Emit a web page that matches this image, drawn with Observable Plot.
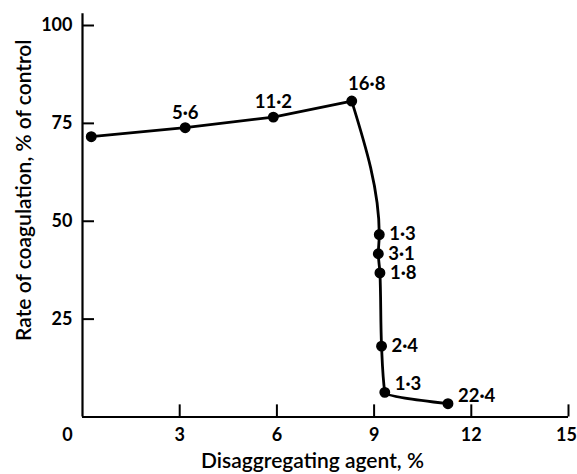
<!DOCTYPE html>
<html>
<head>
<meta charset="utf-8">
<script src="https://cdn.jsdelivr.net/npm/d3@7"></script>
<script src="https://cdn.jsdelivr.net/npm/@observablehq/plot@0.6"></script>
<style>
  html, body { margin: 0; padding: 0; background: #fff; }
  #chart svg { display: block; }
</style>
</head>
<body>
<div id="chart"></div>
<script>
// Data
const agentPct = [0.27, 3.17, 5.89, 8.31, 9.16, 9.13, 9.18, 9.23, 9.33, 11.28];
const coagRate = [71.6, 73.9, 76.6, 80.7, 46.6, 41.7, 36.8, 18.1, 6.3, 3.4];
const pointLabels = ["", "5·6", "11·2", "16·8", "1·3", "3·1", "1·8", "2·4", "1·3", "22·4"];
const xTicks = [0, 3, 6, 9, 12, 15];
const yTicks = [25, 50, 75, 100];
const xTitle = "Disaggregating agent, %";
const yTitle = "Rate of coagulation, % of control";

const data = agentPct.map((x, i) => ({x, y: coagRate[i], label: pointLabels[i], i}));
const rising = data.filter(d => d.i <= 3);
const falling = data.filter(d => d.i >= 3);
const above = data.filter(d => d.i === 1 || d.i === 2);
const aboveRight = data.filter(d => d.i === 3);
const right = data.filter(d => d.i >= 4 && d.i <= 7);
const upRight = data.filter(d => d.i >= 8);

const font = "Lato, 'Open Sans', sans-serif";
const fs = 18;
const fl = 18.5;

const chart = Plot.plot({
  width: 577,
  height: 474,
  marginLeft: 82,
  marginRight: 9,
  marginTop: 25,
  marginBottom: 57.5,
  style: {fontFamily: font, background: "#fff", color: "#000", overflow: "visible"},
  x: {domain: [0, 15], axis: null},
  y: {domain: [0, 100], axis: null},
  marks: [
    // axis lines
    Plot.ruleY([0], {x1: 0, x2: 15, stroke: "#000", strokeWidth: 2.2}),
    Plot.ruleX([0], {y1: 0, y2: 103, stroke: "#000", strokeWidth: 2.2}),
    // inward ticks
    Plot.ruleX(xTicks.filter(t => t > 0), {x: d => d, y1: 0, y2: 3.1, stroke: "#000", strokeWidth: 2}),
    Plot.ruleY(yTicks, {y: d => d, x1: 0, x2: 0.37, stroke: "#000", strokeWidth: 2}),
    // tick labels
    Plot.text(xTicks.filter(t => t > 0 && t < 15), {x: d => d, y: 0, text: d => String(d), dy: 18.5, fontSize: fs, fontWeight: "bold", fill: "#000"}),
    Plot.text(xTicks.filter(t => t === 15), {x: d => d, y: 0, text: d => String(d), dy: 18.5, dx: -2, fontSize: fs, fontWeight: "bold", fill: "#000"}),
    Plot.text(xTicks.filter(t => t === 0), {x: d => d, y: 0, text: d => String(d), dy: 18.5, dx: -15, fontSize: fs, fontWeight: "bold", fill: "#000"}),
    Plot.text(yTicks, {x: 0, y: d => d, text: d => String(d), dx: -10, textAnchor: "end", fontSize: fs, fontWeight: "bold", fill: "#000"}),
    // curve and points
    Plot.line(rising, {x: "x", y: "y", curve: "linear", stroke: "#000", strokeWidth: 2.8}),
    Plot.line(falling, {x: "x", y: "y", curve: "monotone-y", stroke: "#000", strokeWidth: 2.8}),
    Plot.dot(data, {x: "x", y: "y", r: 4.7, fill: "#000", stroke: "#000"}),
    // point labels
    Plot.text(above, {x: "x", y: "y", text: "label", dy: -15, fontSize: fl, fontWeight: "bold", fill: "#000"}),
    Plot.text(aboveRight, {x: "x", y: "y", text: "label", dx: 15, dy: -17, fontSize: fl, fontWeight: "bold", fill: "#000"}),
    Plot.text(right, {x: "x", y: "y", text: "label", dx: 10, textAnchor: "start", fontSize: fl, fontWeight: "bold", fill: "#000"}),
    Plot.text(upRight, {x: "x", y: "y", text: "label", dx: 10, dy: -8, textAnchor: "start", fontSize: fl, fontWeight: "bold", fill: "#000"}),
    // axis titles
    Plot.text([xTitle], {frameAnchor: "bottom", text: d => d, textAnchor: "middle", dy: 51, dx: -13, fontSize: 21, fontWeight: 600, fill: "#000"}),
    Plot.text([yTitle], {frameAnchor: "left", text: d => d, textAnchor: "middle", rotate: -90, dx: -58, dy: -31, fontSize: 21, fontWeight: 600, fill: "#000"})
  ]
});
document.getElementById("chart").appendChild(chart);
</script>
</body>
</html>
